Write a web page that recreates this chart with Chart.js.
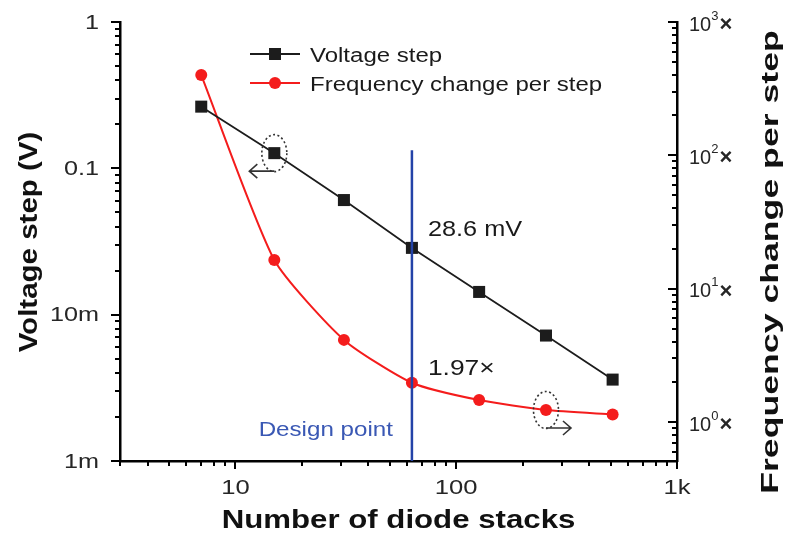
<!DOCTYPE html>
<html>
<head>
<meta charset="utf-8">
<script src="https://cdn.jsdelivr.net/npm/chart.js@4.4.1/dist/chart.umd.min.js"></script>
<style>
  html, body { margin: 0; padding: 0; background: #fff; }
  #wrap { width: 791px; height: 542px; }
</style>
</head>
<body>
<div id="wrap"><canvas id="chart"></canvas></div>
<script>
// data
const stacks = [7, 15, 31, 63, 127, 255, 511];
const voltageStep = [0.264, 0.127, 0.0607, 0.0286, 0.0143, 0.0072, 0.0036];
const freqChange = [400, 16.4, 4.13, 1.97, 1.46, 1.23, 1.14];
const designStacks = 63;
const designLineTop = 0.133;

const xTicks = [10, 100, 1000];
const xTickLabels = ['10', '100', '1k'];
const vTicks = [0.001, 0.01, 0.1, 1];
const vTickLabels = ['1m', '10m', '0.1', '1'];
const fTicks = [1, 10, 100, 1000];
const fTickExps = ['0', '1', '2', '3'];

const FONT = '"Liberation Sans", Arial, sans-serif';
const BLUE = '#2443a8';
const RED = '#f41c1c';
const BLACK = '#1c1c1c';
const TICK_TXT = '#262626';

function txt(ctx, s, x, y, o) {
  ctx.save();
  ctx.translate(x, y);
  if (o.rotate) ctx.rotate(o.rotate);
  ctx.scale(o.stretch || 1, 1);
  ctx.font = (o.bold ? 'bold ' : '') + o.size + 'px ' + FONT;
  ctx.fillStyle = o.color || '#222';
  ctx.textAlign = o.align || 'left';
  ctx.textBaseline = o.baseline || 'middle';
  ctx.fillText(s, 0, 0);
  const w = ctx.measureText(s).width * (o.stretch || 1);
  ctx.restore();
  return w;
}

function logValues(min, max) {
  const out = [];
  for (let e = Math.floor(Math.log10(min)); e <= Math.ceil(Math.log10(max)); e++) {
    for (let s = 1; s <= 9; s++) {
      const v = s * Math.pow(10, e);
      if (v >= min * 0.9999 && v <= max * 1.0001) out.push({ v: v, major: s === 1 });
    }
  }
  return out;
}

function ellipseArrow(ctx, px, py, dir) {
  ctx.save();
  ctx.strokeStyle = '#333';
  ctx.lineWidth = 1.6;
  ctx.setLineDash([2, 2.5]);
  ctx.beginPath();
  ctx.ellipse(px, py, 12.5, 18.5, 0, 0, Math.PI * 2);
  ctx.stroke();
  ctx.setLineDash([]);
  const ay = py + 18;
  const tip = px + dir * 25;
  ctx.beginPath();
  ctx.moveTo(px, ay);
  ctx.lineTo(tip, ay);
  ctx.moveTo(tip - dir * 8, ay - 7);
  ctx.lineTo(tip, ay);
  ctx.lineTo(tip - dir * 8, ay + 7);
  ctx.stroke();
  ctx.restore();
}

const decor = {
  id: 'decor',
  afterDraw(chart) {
    const ctx = chart.ctx;
    const area = chart.chartArea;
    const sx = chart.scales.x, sy = chart.scales.y, sf = chart.scales.y1;

    // tick marks
    ctx.save();
    ctx.strokeStyle = '#000';
    ctx.lineWidth = 2;
    ctx.beginPath();
    logValues(sx.min, sx.max).forEach(t => {
      const p = Math.round(sx.getPixelForValue(t.v));
      ctx.moveTo(p, area.bottom);
      ctx.lineTo(p, area.bottom + (t.major ? 8 : 5));
    });
    logValues(sy.min, sy.max).forEach(t => {
      const p = Math.round(sy.getPixelForValue(t.v));
      ctx.moveTo(area.left, p);
      ctx.lineTo(area.left - (t.major ? 9 : 5), p);
    });
    logValues(sf.min, sf.max).forEach(t => {
      const p = Math.round(sf.getPixelForValue(t.v));
      ctx.moveTo(area.right, p);
      ctx.lineTo(area.right - (t.major ? 9 : 5), p);
    });
    ctx.stroke();
    ctx.restore();

    // tick labels
    xTicks.forEach((v, i) => {
      txt(ctx, xTickLabels[i], sx.getPixelForValue(v), area.bottom + 27,
        { size: 21, align: 'center', stretch: 1.22, color: TICK_TXT });
    });
    vTicks.forEach((v, i) => {
      txt(ctx, vTickLabels[i], area.left - 21, sy.getPixelForValue(v) + 1,
        { size: 21, align: 'right', stretch: 1.2, color: TICK_TXT });
    });
    fTicks.forEach((v, i) => {
      const py = sf.getPixelForValue(v) + 3;
      let x0 = area.right + 12;
      x0 += txt(ctx, '10', x0, py, { size: 20, color: TICK_TXT });
      x0 += txt(ctx, fTickExps[i], x0, py - 9, { size: 13, color: TICK_TXT }) + 1;
      txt(ctx, '×', x0, py, { size: 22, bold: true, color: TICK_TXT });
    });

    // axis titles
    const cx = (area.left + area.right) / 2;
    txt(ctx, 'Number of diode stacks', cx, 521, { size: 26, bold: true, align: 'center', stretch: 1.2, color: '#111' });
    txt(ctx, 'Voltage step (V)', 30, 242, { size: 25, bold: true, align: 'center', stretch: 1.18, rotate: -Math.PI / 2, color: '#111' });
    txt(ctx, 'Frequency change per step', 772, 262, { size: 23, bold: true, align: 'center', stretch: 1.55, rotate: -Math.PI / 2, color: '#111' });

    // legend
    const items = chart.data.datasets.slice(0, 2);
    items.forEach((ds, i) => {
      const ly = 54 + i * 29;
      ctx.save();
      ctx.strokeStyle = ds.borderColor;
      ctx.fillStyle = ds.borderColor;
      ctx.lineWidth = 2;
      ctx.beginPath();
      ctx.moveTo(250, ly);
      ctx.lineTo(300, ly);
      ctx.stroke();
      if (ds.pointStyle === 'rect') {
        ctx.fillRect(269, ly - 6, 12, 12);
      } else {
        ctx.beginPath();
        ctx.arc(275, ly, 6, 0, Math.PI * 2);
        ctx.fill();
      }
      ctx.restore();
      txt(ctx, ds.label, 310, ly + 2, { size: 20, stretch: 1.2, color: '#1a1a1a' });
    });

    // annotations
    const dx = sx.getPixelForValue(designStacks);
    txt(ctx, '28.6 mV', dx + 16, sy.getPixelForValue(voltageStep[3]) - 18, { size: 22, stretch: 1.15, color: '#1a1a1a' });
    txt(ctx, '1.97×', dx + 16, sf.getPixelForValue(freqChange[3]) - 14, { size: 22, stretch: 1.2, color: '#1a1a1a' });
    txt(ctx, 'Design point', dx - 19, 430, { size: 21, stretch: 1.15, align: 'right', color: '#3a58b4' });

    ellipseArrow(ctx, sx.getPixelForValue(stacks[1]), sy.getPixelForValue(voltageStep[1]), -1);
    ellipseArrow(ctx, sx.getPixelForValue(stacks[5]), sf.getPixelForValue(freqChange[5]), 1);
  }
};

new Chart(document.getElementById('chart'), {
  type: 'line',
  data: {
    datasets: [
      {
        label: 'Voltage step',
        data: stacks.map((s, i) => ({ x: s, y: voltageStep[i] })),
        yAxisID: 'y',
        borderColor: BLACK,
        backgroundColor: BLACK,
        borderWidth: 1.8,
        pointStyle: 'rect',
        pointRadius: 8.5,
        pointBorderWidth: 0,
        tension: 0
      },
      {
        label: 'Frequency change per step',
        data: stacks.map((s, i) => ({ x: s, y: freqChange[i] })),
        yAxisID: 'y1',
        borderColor: RED,
        backgroundColor: RED,
        borderWidth: 2,
        pointStyle: 'circle',
        pointRadius: 6,
        pointBorderWidth: 0,
        tension: 0.2
      },
      {
        label: 'Design point',
        data: [{ x: designStacks, y: 0.001 }, { x: designStacks, y: designLineTop }],
        yAxisID: 'y',
        borderColor: BLUE,
        borderWidth: 2.5,
        pointRadius: 0,
        order: -1
      }
    ]
  },
  options: {
    responsive: true,
    maintainAspectRatio: false,
    animation: false,
    layout: { padding: { top: 22, left: 0, right: 0, bottom: 0 } },
    plugins: { legend: { display: false }, tooltip: { enabled: false } },
    scales: {
      x: {
        type: 'logarithmic', position: 'bottom', min: 3, max: 1000,
        ticks: { display: false }, grid: { display: false },
        border: { display: true, color: '#000', width: 2.5 },
        afterFit: s => { s.height = 81; }
      },
      y: {
        type: 'logarithmic', position: 'left', min: 0.001, max: 1,
        ticks: { display: false }, grid: { display: false },
        border: { display: true, color: '#000', width: 2.5 },
        afterFit: s => { s.width = 120; }
      },
      y1: {
        type: 'logarithmic', position: 'right', min: 0.51, max: 1000,
        ticks: { display: false }, grid: { display: false },
        border: { display: true, color: '#000', width: 2.5 },
        afterFit: s => { s.width = 114; }
      }
    }
  },
  plugins: [decor]
});
</script>
</body>
</html>
